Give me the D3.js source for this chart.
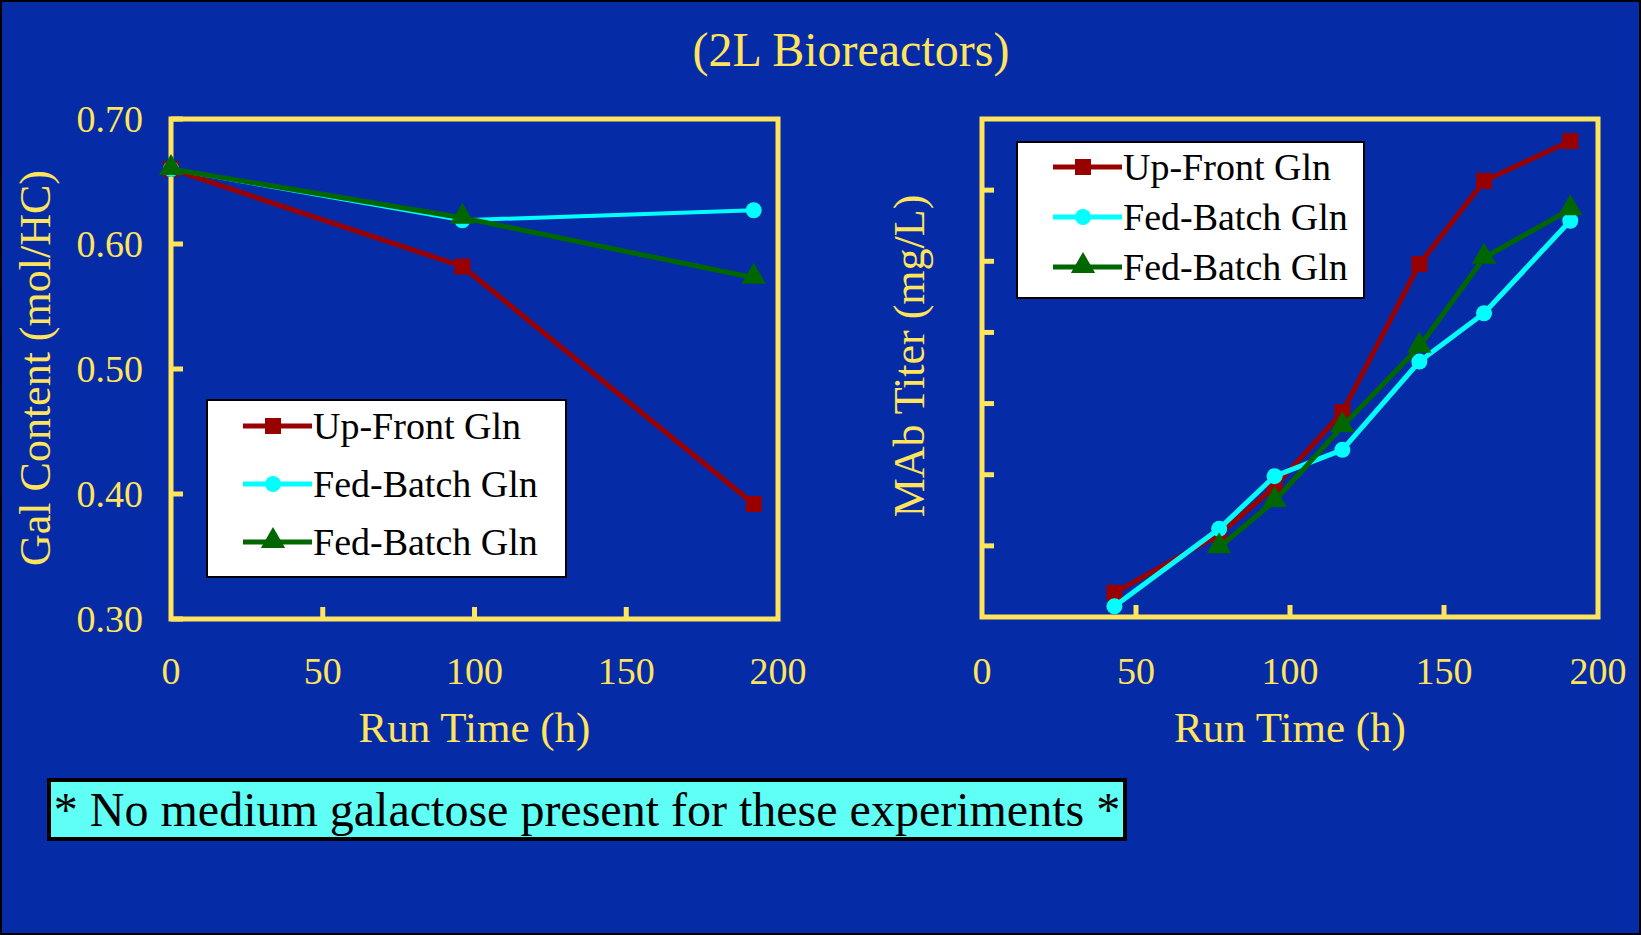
<!DOCTYPE html>
<html><head><meta charset="utf-8">
<script src="https://cdn.jsdelivr.net/npm/d3@7"></script>
<style>body{margin:0;background:#fff}svg{display:block}</style>
</head><body>
<script>
// left panel: Gal content
var galTime = [0, 96, 192];
var galUpFront = [0.660, 0.582, 0.392];
var galFedCyan = [0.660, 0.619, 0.627];
var galFedGreen = [0.660, 0.621, 0.573];
// right panel: MAb titer (unlabelled axis units)
var titerTimeRed = [43, 77, 95, 117, 142, 163, 191];
var titerRed = [0.34, 1.16, 1.83, 2.88, 4.96, 6.13, 6.69];
var titerTimeCyan = [43, 77, 95, 117, 142, 163, 191];
var titerCyan = [0.15, 1.24, 1.98, 2.35, 3.59, 4.27, 5.57];
var titerTimeGreen = [77, 95, 117, 142, 163, 191];
var titerGreen = [0.98, 1.63, 2.68, 3.80, 5.05, 5.73];
var xTicks = [0, 50, 100, 150, 200];
var galTicks = [0.30, 0.40, 0.50, 0.60, 0.70];
var titerTicks = [1, 2, 3, 4, 5, 6];
var seriesNames = ["Up-Front Gln", "Fed-Batch Gln", "Fed-Batch Gln"];

var W = 1641, H = 935;
var yellow = "#ffe45c", red = "#990000", cyan = "#00ffff", green = "#006600";
var font = "'Liberation Serif','Times New Roman',serif";

var svg = d3.select("body").append("svg").attr("width", W).attr("height", H);
svg.append("rect").attr("x", 1).attr("y", 1).attr("width", W - 2).attr("height", H - 2)
  .attr("fill", "#062ba6").attr("stroke", "#000").attr("stroke-width", 2);

svg.append("text").attr("x", 851).attr("y", 66).attr("text-anchor", "middle")
  .attr("fill", yellow).attr("font-family", font).attr("font-size", 48).text("(2L Bioreactors)");

function marker(g, shape, color, x, y, s) {
  if (shape === "square") g.append("rect").attr("x", x - s).attr("y", y - s).attr("width", 2 * s).attr("height", 2 * s).attr("fill", color);
  else if (shape === "circle") g.append("circle").attr("cx", x).attr("cy", y).attr("r", s).attr("fill", color);
  else g.append("path").attr("d", d3.symbol().type(d3.symbolTriangle).size(s * s * 4)).attr("transform", "translate(" + x + "," + (y - 1) + ")").attr("fill", color);
}

function panel(o) {
  var x = d3.scaleLinear().domain([0, 200]).range([o.left, o.right]);
  var y = d3.scaleLinear().domain(o.ydom).range([o.bottom, o.top]);
  var g = svg.append("g");
  g.append("rect").attr("x", o.left).attr("y", o.top).attr("width", o.right - o.left).attr("height", o.bottom - o.top)
    .attr("fill", "none").attr("stroke", yellow).attr("stroke-width", 5);
  // inward ticks
  xTicks.slice(1, -1).forEach(function (t) {
    g.append("line").attr("x1", x(t)).attr("x2", x(t)).attr("y1", o.bottom).attr("y2", o.bottom - 12).attr("stroke", yellow).attr("stroke-width", 5);
  });
  o.yticks.forEach(function (t) {
    g.append("line").attr("x1", o.left).attr("x2", o.left + 12).attr("y1", y(t)).attr("y2", y(t)).attr("stroke", yellow).attr("stroke-width", 5);
  });
  xTicks.forEach(function (t) {
    g.append("text").attr("x", x(t)).attr("y", 684).attr("text-anchor", "middle").attr("fill", yellow)
      .attr("font-family", font).attr("font-size", 38).text(t);
  });
  if (o.ylabels) o.yticks.forEach(function (t) {
    g.append("text").attr("x", o.left - 28).attr("y", y(t) + 13).attr("text-anchor", "end").attr("fill", yellow)
      .attr("font-family", font).attr("font-size", 38).text(d3.format(".2f")(t));
  });
  g.append("text").attr("x", (o.left + o.right) / 2).attr("y", 742).attr("text-anchor", "middle").attr("fill", yellow)
    .attr("font-family", font).attr("font-size", 43).text("Run Time (h)");
  g.append("text").attr("transform", "translate(" + o.ylabX + "," + o.ylabY + ") rotate(-90)").attr("text-anchor", "middle")
    .attr("fill", yellow).attr("font-family", font).attr("font-size", 44).text(o.ytitle);
  var line = d3.line().x(function (d) { return x(d[0]); }).y(function (d) { return y(d[1]); });
  o.series.forEach(function (s) {
    var pts = d3.zip(s.t, s.v);
    g.append("path").datum(pts).attr("d", line).attr("fill", "none").attr("stroke", s.color).attr("stroke-width", s.w);
    pts.forEach(function (p) { marker(g, s.shape, s.color, x(p[0]), y(p[1]), 8); });
  });
  // legend
  var L = o.legend;
  g.append("rect").attr("x", L.x).attr("y", L.y).attr("width", L.w).attr("height", L.h).attr("fill", "#fff").attr("stroke", "#000").attr("stroke-width", 2);
  o.series.forEach(function (s, i) {
    var cy = L.y + L.first + i * L.step;
    g.append("line").attr("x1", L.x + 36).attr("x2", L.x + 105).attr("y1", cy).attr("y2", cy).attr("stroke", s.color).attr("stroke-width", 5);
    marker(g, s.shape, s.color, L.x + 66, cy, 8);
    g.append("text").attr("x", L.x + 106).attr("y", cy + 13).attr("font-family", font).attr("font-size", 38).attr("fill", "#000").text(seriesNames[i]);
  });
}

panel({
  left: 171, right: 778, top: 119, bottom: 619, ydom: [0.30, 0.70], yticks: galTicks, ylabels: true,
  ylabX: 50, ylabY: 368, ytitle: "Gal Content (mol/HC)",
  legend: { x: 207, y: 400, w: 359, h: 177, first: 26, step: 58 },
  series: [
    { t: galTime, v: galUpFront, color: red, shape: "square", w: 5 },
    { t: galTime, v: galFedCyan, color: cyan, shape: "circle", w: 4 },
    { t: galTime, v: galFedGreen, color: green, shape: "triangle", w: 5 }
  ]
});
panel({
  left: 982, right: 1598, top: 119, bottom: 617, ydom: [0, 7], yticks: titerTicks, ylabels: false,
  ylabX: 924, ylabY: 356, ytitle: "MAb Titer (mg/L)",
  legend: { x: 1017, y: 142, w: 347, h: 156, first: 25, step: 50 },
  series: [
    { t: titerTimeRed, v: titerRed, color: red, shape: "square", w: 5 },
    { t: titerTimeCyan, v: titerCyan, color: cyan, shape: "circle", w: 5 },
    { t: titerTimeGreen, v: titerGreen, color: green, shape: "triangle", w: 5 }
  ]
});

svg.append("rect").attr("x", 49).attr("y", 780).attr("width", 1076).attr("height", 59)
  .attr("fill", "#5ffff5").attr("stroke", "#000").attr("stroke-width", 4);
svg.append("text").attr("x", 587).attr("y", 826).attr("text-anchor", "middle").attr("font-family", font)
  .attr("font-size", 48).attr("fill", "#000").text("* No medium galactose present for these experiments *");
</script>
</body></html>
